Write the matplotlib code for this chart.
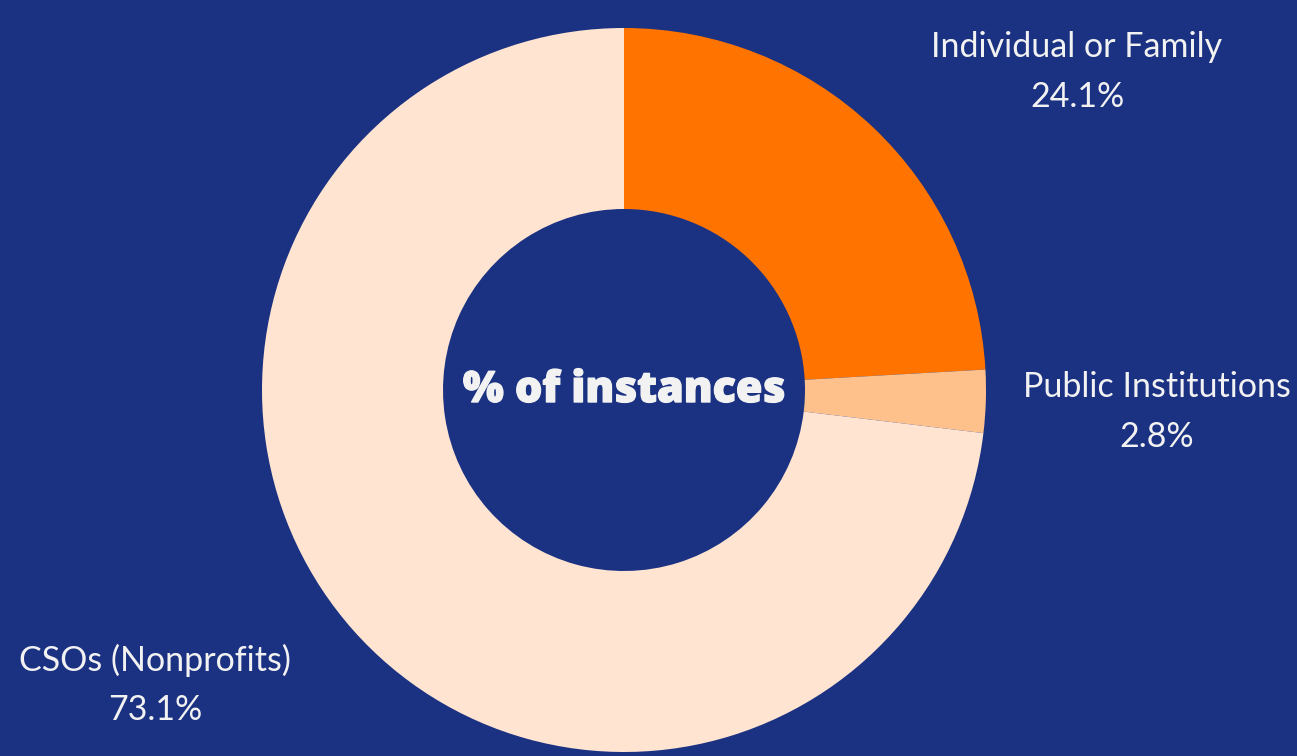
import matplotlib.pyplot as plt
import matplotlib.patheffects as pe

categories = ["Individual or Family", "Public Institutions", "CSOs (Nonprofits)"]
shares = [24.1, 2.8, 73.1]
colors = ["#FF7300", "#FFC18C", "#FFE4D1"]

bg = "#1B3282"
txt = "#F2F2F2"

W, H = 1297, 756
fig = plt.figure(figsize=(W / 100, H / 100), dpi=100, facecolor=bg)
ax = fig.add_axes([0, 0, 1, 1])
ax.set_facecolor(bg)

# donut, drawn clockwise from 12 o'clock
ax.pie(shares, colors=colors, startangle=90, counterclock=False,
       center=(624, H - 390), radius=362,
       wedgeprops=dict(width=181, edgecolor="none"))
ax.set_xlim(0, W)
ax.set_ylim(0, H)
ax.set_aspect("equal")
ax.axis("off")

# label positions (pixels from top-left)
label_pos = [(1077, 47), (1157, 387), (155, 660)]
for name, val, (x, y) in zip(categories, shares, label_pos):
    ax.text(x, H - y, name, ha="center", va="center", color=txt,
            fontsize=24.5, family="Lato")
    ax.text(x, H - y - 50, f"{val}%", ha="center", va="center", color=txt,
            fontsize=24.5, family="Lato")

# heavy centre title
ax.text(624, H - 391, "% of instances", ha="center", va="center", color=txt,
        fontsize=31, family="Open Sans", fontweight="heavy",
        path_effects=[pe.withStroke(linewidth=1.0, foreground=txt)])

fig.savefig("out.png", dpi=100, facecolor=bg)
